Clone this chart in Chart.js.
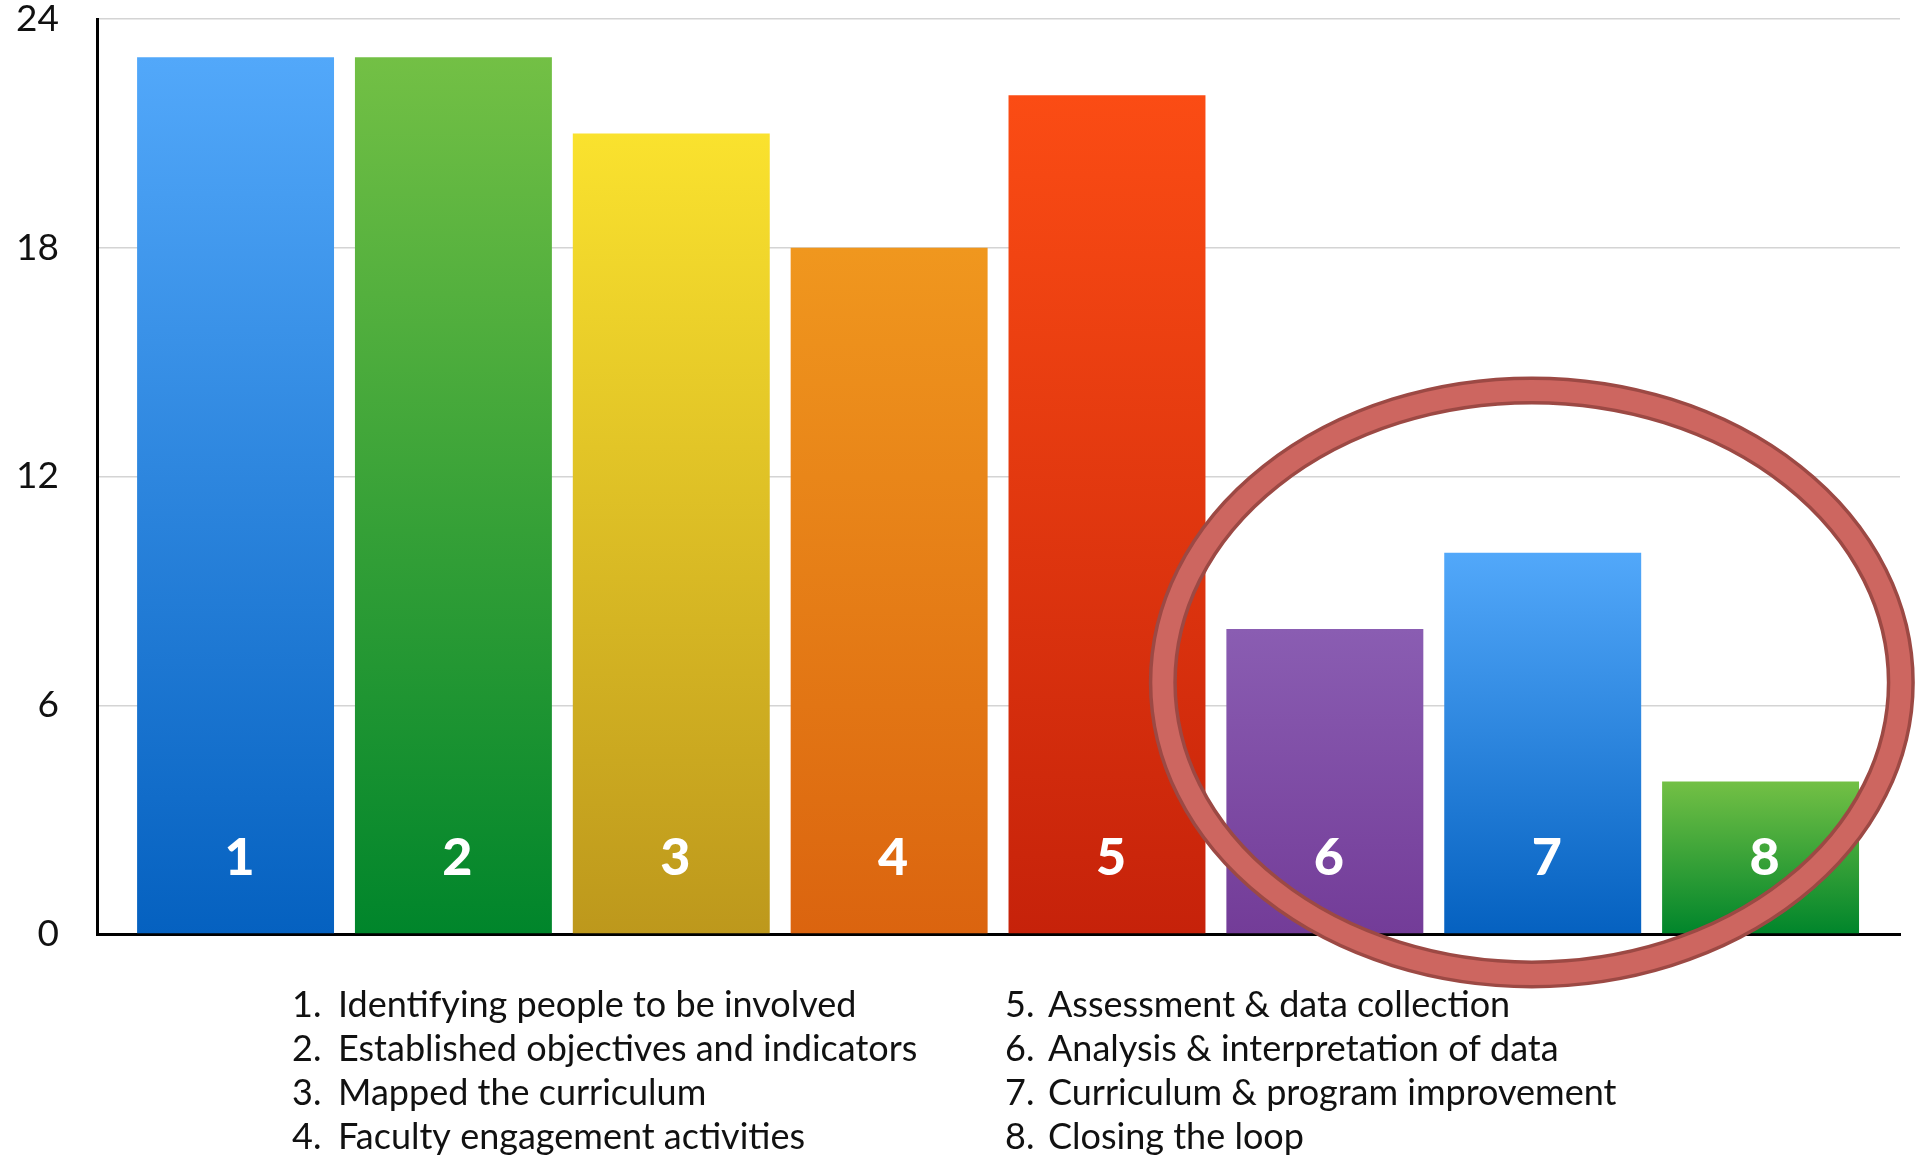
<!DOCTYPE html>
<html>
<head>
<meta charset="utf-8">
<script src="https://cdn.jsdelivr.net/npm/chart.js@4.4.1/dist/chart.umd.min.js"></script>
<style>
html,body{margin:0;padding:0;background:#ffffff;overflow:hidden}
#wrap{position:relative;width:1915px;height:1155px}
</style>
</head>
<body>
<div id="wrap"><canvas id="c" width="1915" height="1155"></canvas></div>
<script>
// ---- data ----
const categories = ["1", "2", "3", "4", "5", "6", "7", "8"];
const descriptions = [
  "Identifying people to be involved",
  "Established objectives and indicators",
  "Mapped the curriculum",
  "Faculty engagement activities",
  "Assessment & data collection",
  "Analysis & interpretation of data",
  "Curriculum & program improvement",
  "Closing the loop"
];
const values = [23, 23, 21, 18, 22, 8, 10, 4];
const yTicks = [0, 6, 12, 18, 24];
const topColors = ["#52a8fa", "#73c045", "#fae22e", "#f0971e", "#fb4c14", "#8a5db2", "#52a8fa", "#73c045"];
const bottomColors = ["#0561c0", "#00852b", "#bd981c", "#db640f", "#c6220a", "#733c98", "#0561c0", "#00852b"];

// ---- styles ----
const TEXT_FONT = "Lato, 'Open Sans', sans-serif";

function barGradient(context) {
  const chart = context.chart;
  const i = context.dataIndex;
  const area = chart.chartArea;
  if (!area) return topColors[i];
  const y = chart.scales.y;
  const top = y.getPixelForValue(values[i]);
  const bottom = y.getPixelForValue(0);
  const g = chart.ctx.createLinearGradient(0, top, 0, bottom);
  g.addColorStop(0, topColors[i]);
  g.addColorStop(1, bottomColors[i]);
  return g;
}

const decorations = {
  id: 'decorations',
  afterDatasetsDraw(chart) {
    const ctx = chart.ctx;
    const meta = chart.getDatasetMeta(0);
    ctx.save();
    ctx.fillStyle = '#ffffff';
    ctx.font = "900 52px " + TEXT_FONT;
    ctx.textAlign = 'center';
    ctx.textBaseline = 'middle';
    meta.data.forEach((el, i) => {
      ctx.fillText(categories[i], el.x + 4, 858);
    });
    ctx.restore();
  },
  afterDraw(chart) {
    const ctx = chart.ctx;
    ctx.save();
    ctx.fillStyle = '#111111';
    ctx.font = "36px " + TEXT_FONT;
    ctx.textAlign = 'left';
    ctx.textBaseline = 'alphabetic';
    const colNum = [292, 1005];
    const colText = [338, 1048];
    const rowBase = [1017, 1061, 1105, 1149];
    descriptions.forEach((d, i) => {
      const col = Math.floor(i / 4), row = i % 4;
      ctx.fillText(categories[i] + ".", colNum[col], rowBase[row]);
      ctx.fillText(d, colText[col], rowBase[row]);
    });
    ctx.restore();

    const xs = chart.scales.x, ys = chart.scales.y;
    const cx = xs.getPixelForValue(6.95);
    const cy = ys.getPixelForValue(6.6);
    ctx.save();
    ctx.beginPath();
    ctx.ellipse(cx, cy, 369, 292, 0, 0, Math.PI * 2);
    ctx.strokeStyle = '#9c4944';
    ctx.lineWidth = 28;
    ctx.stroke();
    ctx.beginPath();
    ctx.ellipse(cx, cy, 369, 292, 0, 0, Math.PI * 2);
    ctx.strokeStyle = '#cd6660';
    ctx.lineWidth = 21;
    ctx.stroke();
    ctx.restore();
  }
};

new Chart(document.getElementById('c'), {
  type: 'bar',
  data: {
    datasets: [{
      data: categories.map((c, i) => ({ x: Number(c), y: values[i] })),
      backgroundColor: barGradient,
      borderWidth: 0,
      barPercentage: 0.904,
      categoryPercentage: 1.0
    }]
  },
  options: {
    responsive: false,
    animation: false,
    events: [],
    layout: { padding: { left: 0, right: 15, top: 19, bottom: 221 } },
    plugins: { legend: { display: false }, tooltip: { enabled: false } },
    scales: {
      x: {
        type: 'linear',
        offset: false,
        min: 0.364,
        max: 8.64,
        afterBuildTicks(s) { s.ticks = categories.map(c => ({ value: Number(c) })); },
        grid: { display: false, offset: false },
        ticks: { display: false },
        border: { display: true, color: '#000000', width: 3 },
        afterFit(s) { s.height = 0; s.paddingLeft = 0; s.paddingRight = 0; }
      },
      y: {
        min: 0,
        max: 24,
        afterBuildTicks(s) { s.ticks = yTicks.map(v => ({ value: v })); },
        ticks: {
          padding: 38,
          color: '#111111',
          font: { family: TEXT_FONT, size: 37 }
        },
        grid: { color: '#d4d4d4', lineWidth: 1.5, drawTicks: false },
        border: { display: true, color: '#000000', width: 3 },
        afterFit(s) { s.width = 97; s.paddingTop = 0; s.paddingBottom = 0; }
      }
    }
  },
  plugins: [decorations]
});
</script>
</body>
</html>
